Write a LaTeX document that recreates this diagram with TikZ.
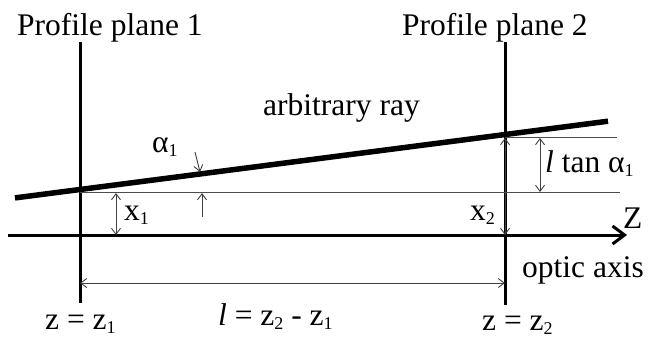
\documentclass[tikz,border=0pt]{standalone}
\usepackage{fontspec}
\setmainfont{Liberation Serif}
\usepackage{tikz}
\usetikzlibrary{arrows.meta}
\newcommand{\lowidx}[1]{\raisebox{-0.14em}{\fontsize{18}{18}\selectfont #1}}

\begin{document}
\begin{tikzpicture}[x=1pt, y=-1pt,
    lbl/.style={inner sep=0pt, anchor=base west, font=\fontsize{31.5}{36}\selectfont},
    plane/.style={line width=3pt},
    guide/.style={line width=1pt, black!70},
    dim/.style={line width=0.9pt, black!75, {Straight Barb[length=6pt, width=9pt]}-{Straight Barb[length=6pt, width=9pt]}},
    tick/.style={line width=0.9pt, black!75, -{Straight Barb[length=6pt, width=9pt]}}]
      \useasboundingbox (0,0) rectangle (663,338);

      % end points
      \coordinate (p1t) at (80,42);   \coordinate (p1b) at (80,303);
      \coordinate (p2t) at (505,42);  \coordinate (p2b) at (505,305);
      \coordinate (ax0) at (8,235);   \coordinate (ax1) at (627,235);
      \coordinate (ry0) at (15,197.9); \coordinate (ry1) at (608,121.2);
      \coordinate (g1a) at (80,192);  \coordinate (g1b) at (620,192);
      \coordinate (g2a) at (505,137); \coordinate (g2b) at (617,137);

      \draw[plane] (p1t) -- (p1b);
      \draw[plane] (p2t) -- (p2b);
      \draw[line width=3pt, -{Straight Barb[length=12pt, width=18pt]}] (ax0) -- (ax1);
      \draw[line width=5.5pt] (ry0) -- (ry1);
      \draw[guide] (g1a) -- (g1b);
      \draw[guide] (g2a) -- (g2b);

      % dimension arrows
      \draw[dim] (116,193) -- (116,235);
      \draw[dim] (505,138) -- (505,235);
      \draw[dim] (540,138) -- (540,192);
      \draw[dim] (80,283) -- (505,283);
      \draw[tick] (195,152) -- (200,172);
      \draw[tick] (202,217) -- (202,193);

      % labels
      \node[lbl] (pp1) at (17,35) {Profile plane 1};
      \node[lbl] (pp2) at (402,35) {Profile plane 2};
      \node[lbl] (ray) at (263,115) {arbitrary ray};
      \node[lbl] (alf) at (152,152) {α\lowidx{1}};
      \node[lbl] (ltn) at (545,172) {\textit{l} tan α\lowidx{1}};
      \node[lbl] (xa) at (124,220) {x\lowidx{1}};
      \node[lbl] (xb) at (470,220) {x\lowidx{2}};
      \node[lbl] (zz) at (623,228) {Z};
      \node[lbl] (oax) at (522,277) {optic axis};
      \node[lbl] (z1) at (45,329) {z = z\lowidx{1}};
      \node[lbl] (len) at (218,325) {\textit{l} = z\lowidx{2} - z\lowidx{1}};
      \node[lbl] (z2) at (482,330) {z = z\lowidx{2}};
    \end{tikzpicture}
\end{document}
